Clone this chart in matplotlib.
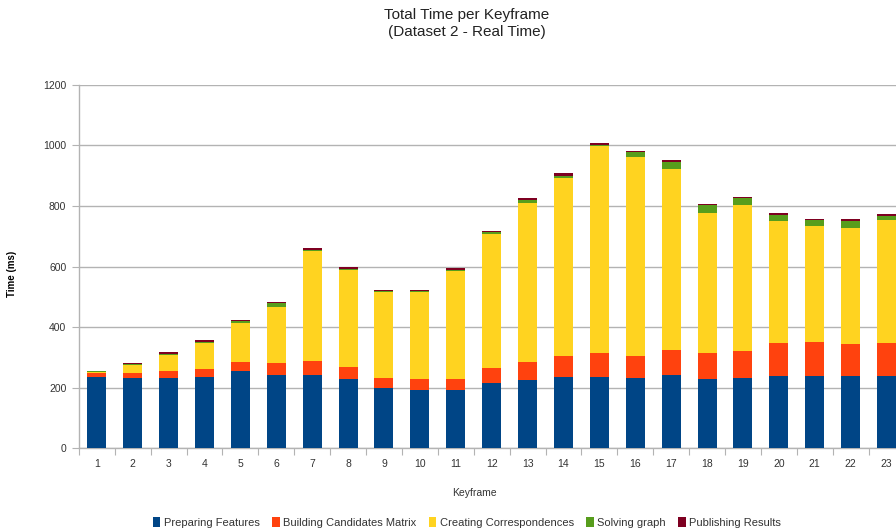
import numpy as np
import matplotlib
matplotlib.use('Agg')
import matplotlib.pyplot as plt
from matplotlib.ticker import FixedLocator, NullFormatter

plt.rcParams['font.family'] = ['Liberation Sans', 'DejaVu Sans']

# Time per stage for each keyframe (ms)
keyframes = list(range(1, 24))
preparing_features = [236, 231, 231, 236, 255, 243, 243, 228, 200, 193, 193, 215,
                      224, 236, 236, 231, 242, 228, 231, 240, 240, 240, 240]
building_candidates = [12, 16, 24, 27, 30, 39, 46, 39, 31, 34, 37, 50,
                       61, 69, 80, 74, 82, 85, 90, 108, 111, 104, 108]
creating_correspondences = [3, 27, 53, 83, 128, 185, 361, 320, 285, 288, 354, 443,
                            524, 588, 683, 657, 599, 464, 481, 401, 383, 382, 406]
solving_graph = [3, 3, 4, 5, 6, 12, 6, 6, 3, 3, 5, 6,
                 12, 7, 3, 16, 23, 25, 24, 22, 19, 25, 13]
publishing_results = [2, 4, 5, 7, 5, 4, 6, 7, 4, 4, 6, 5,
                      6, 9, 5, 5, 5, 6, 5, 7, 5, 6, 7]

series = [
    ('Preparing Features', preparing_features, '#004586'),
    ('Building Candidates Matrix', building_candidates, '#ff420e'),
    ('Creating Correspondences', creating_correspondences, '#ffd320'),
    ('Solving graph', solving_graph, '#579d1c'),
    ('Publishing Results', publishing_results, '#7e0021'),
]

fig = plt.figure(figsize=(8.96, 5.31), dpi=100)
# axes run a little past the right edge, the way the chart was exported
ax = fig.add_axes([0.088, 0.156, 0.9215, 0.684])

x = np.array(keyframes)
bottom = np.zeros(len(keyframes))
handles = []
for label, values, color in series:
    b = ax.bar(x, values, width=0.53, bottom=bottom, color=color, label=label,
               linewidth=0, zorder=3)
    handles.append(b)
    bottom += np.array(values)

ax.set_xlim(0.5, 23.5)
ax.set_ylim(0, 1200)
ax.set_yticks(range(0, 1201, 200))
ax.set_xticks(x)
ax.xaxis.set_minor_locator(FixedLocator(np.arange(0.5, 24, 1)))
ax.xaxis.set_minor_formatter(NullFormatter())
ax.tick_params(axis='x', which='major', length=0, pad=8, labelsize=7.5, labelcolor='#333333')
ax.tick_params(axis='x', which='minor', length=5, color='#b3b3b3', width=0.8)
ax.tick_params(axis='y', length=5, color='#b3b3b3', width=0.8, pad=4,
               labelsize=7.5, labelcolor='#333333')

ax.grid(axis='y', color='#b3b3b3', linewidth=1.0, zorder=0)
ax.set_axisbelow(True)
for side in ['top', 'right']:
    ax.spines[side].set_visible(False)
for side in ['left', 'bottom']:
    ax.spines[side].set_color('#b3b3b3')
    ax.spines[side].set_linewidth(1.0)

ax.set_ylabel('Time (ms)', fontsize=7, fontweight='bold')
ax.yaxis.set_label_coords(-0.075, 0.48)
fig.text(0.529, 0.072, 'Keyframe', ha='center', va='center', fontsize=7.5, color='#333333')

fig.text(0.521, 0.972, 'Total Time per Keyframe', ha='center', va='center',
         fontsize=11, color='#222222')
fig.text(0.521, 0.94, '(Dataset 2 - Real Time)', ha='center', va='center',
         fontsize=11, color='#222222')

fig.legend(handles=handles, loc='center', bbox_to_anchor=(0.521, 0.016), ncol=5,
           frameon=False, fontsize=8, handlelength=0.7, handleheight=0.9,
           handletextpad=0.3, columnspacing=1.1, labelcolor='#333333')

fig.savefig('out.png', dpi=100)
